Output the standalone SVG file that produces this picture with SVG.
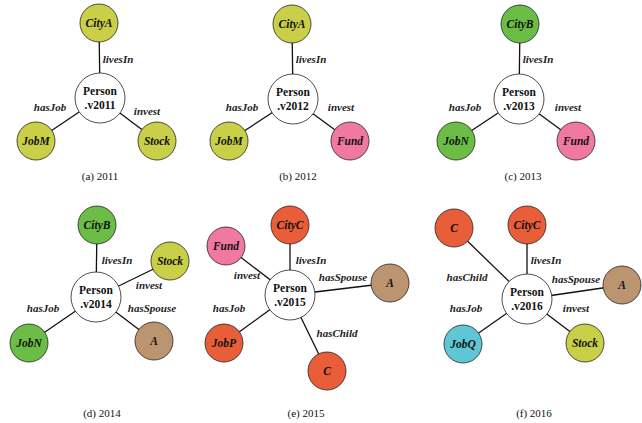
<svg xmlns="http://www.w3.org/2000/svg" width="642" height="423" viewBox="0 0 642 423">
<style>
.n{stroke:#222;stroke-width:0.8}
.p{fill:#fff;stroke:#222;stroke-width:0.8}
.y{fill:#c9cf46}.g{fill:#6cbd45}.k{fill:#f178a1}.o{fill:#e95d38}.b{fill:#bb9470}.c{fill:#5ec7d3}
.e line{stroke:#111;stroke-width:1.3}
text{font-family:"Liberation Serif","Times New Roman",serif;text-anchor:middle;dominant-baseline:central;fill:#111}
.nl{font-size:11.5px;font-weight:bold;font-style:italic}
.pl{font-size:11.5px;font-weight:bold}
.el{font-size:11px;font-style:italic;font-weight:bold;fill:#222}
.cap{font-size:11px}
</style>
<rect width="642" height="423" fill="#fff"/>
<g id="edges" class="e">
<line x1="99" y1="23" x2="100" y2="98"/><line x1="36" y1="141" x2="100" y2="98"/><line x1="157" y1="141" x2="100" y2="98"/>
<line x1="292" y1="24" x2="293" y2="99"/><line x1="229" y1="141" x2="293" y2="99"/><line x1="350" y1="141" x2="293" y2="99"/>
<line x1="520" y1="24" x2="519" y2="99"/><line x1="456" y1="141" x2="519" y2="99"/><line x1="576" y1="141" x2="519" y2="99"/>
<line x1="97" y1="225" x2="96" y2="297"/><line x1="170" y1="261" x2="96" y2="297"/><line x1="29" y1="343" x2="96" y2="297"/><line x1="154" y1="341" x2="96" y2="297"/>
<line x1="290" y1="225" x2="290" y2="295"/><line x1="226" y1="246" x2="290" y2="295"/><line x1="390" y1="283" x2="290" y2="295"/><line x1="224" y1="343" x2="290" y2="295"/><line x1="327" y1="371" x2="290" y2="295"/>
<line x1="454" y1="228" x2="527" y2="299"/><line x1="527" y1="225" x2="527" y2="299"/><line x1="623" y1="285" x2="527" y2="299"/><line x1="463" y1="344" x2="527" y2="299"/><line x1="585" y1="343" x2="527" y2="299"/>
</g>
<g id="edge-labels">
<text class="el" x="118" y="59">livesIn</text><text class="el" x="50" y="107">hasJob</text><text class="el" x="147" y="111">invest</text>
<text class="el" x="311" y="59">livesIn</text><text class="el" x="242" y="107">hasJob</text><text class="el" x="341" y="107">invest</text>
<text class="el" x="538" y="59">livesIn</text><text class="el" x="465" y="107">hasJob</text><text class="el" x="568" y="107">invest</text>
<text class="el" x="117" y="260">livesIn</text><text class="el" x="149" y="285">invest</text><text class="el" x="43" y="308">hasJob</text><text class="el" x="152" y="308">hasSpouse</text>
<text class="el" x="311" y="260">livesIn</text><text class="el" x="247" y="275">invest</text><text class="el" x="343" y="277">hasSpouse</text><text class="el" x="229" y="308">hasJob</text><text class="el" x="337" y="333">hasChild</text>
<text class="el" x="546" y="260">livesIn</text><text class="el" x="467" y="277">hasChild</text><text class="el" x="576" y="279">hasSpouse</text><text class="el" x="466" y="308">hasJob</text><text class="el" x="576" y="308">invest</text>
</g>
<g id="a-person"><circle class="p" cx="100" cy="98" r="25"/><text class="pl" x="100" y="91">Person</text><text class="pl" x="100" y="105">.v2011</text></g>
<g id="a-citya"><circle class="n y" cx="99" cy="23" r="19"/><text class="nl" x="99" y="23">CityA</text></g>
<g id="a-jobm"><circle class="n y" cx="36" cy="141" r="19"/><text class="nl" x="36" y="141">JobM</text></g>
<g id="a-stock"><circle class="n y" cx="157" cy="141" r="19"/><text class="nl" x="157" y="141">Stock</text></g>
<g id="b-person"><circle class="p" cx="293" cy="99" r="25"/><text class="pl" x="293" y="92">Person</text><text class="pl" x="293" y="106">.v2012</text></g>
<g id="b-citya"><circle class="n y" cx="292" cy="24" r="19"/><text class="nl" x="292" y="24">CityA</text></g>
<g id="b-jobm"><circle class="n y" cx="229" cy="141" r="19"/><text class="nl" x="229" y="141">JobM</text></g>
<g id="b-fund"><circle class="n k" cx="350" cy="141" r="19"/><text class="nl" x="350" y="141">Fund</text></g>
<g id="c-person"><circle class="p" cx="519" cy="99" r="25"/><text class="pl" x="519" y="92">Person</text><text class="pl" x="519" y="106">.v2013</text></g>
<g id="c-cityb"><circle class="n g" cx="520" cy="24" r="19"/><text class="nl" x="520" y="24">CityB</text></g>
<g id="c-jobn"><circle class="n g" cx="456" cy="141" r="19"/><text class="nl" x="456" y="141">JobN</text></g>
<g id="c-fund"><circle class="n k" cx="576" cy="141" r="19"/><text class="nl" x="576" y="141">Fund</text></g>
<g id="d-person"><circle class="p" cx="96" cy="297" r="25"/><text class="pl" x="96" y="290">Person</text><text class="pl" x="96" y="304">.v2014</text></g>
<g id="d-cityb"><circle class="n g" cx="97" cy="225" r="19"/><text class="nl" x="97" y="225">CityB</text></g>
<g id="d-stock"><circle class="n y" cx="170" cy="261" r="19"/><text class="nl" x="170" y="261">Stock</text></g>
<g id="d-jobn"><circle class="n g" cx="29" cy="343" r="19"/><text class="nl" x="29" y="343">JobN</text></g>
<g id="d-a"><circle class="n b" cx="154" cy="341" r="19"/><text class="nl" x="154" y="341">A</text></g>
<g id="e-person"><circle class="p" cx="290" cy="295" r="25"/><text class="pl" x="290" y="288">Person</text><text class="pl" x="290" y="302">.v2015</text></g>
<g id="e-cityc"><circle class="n o" cx="290" cy="225" r="19"/><text class="nl" x="290" y="225">CityC</text></g>
<g id="e-fund"><circle class="n k" cx="226" cy="246" r="19"/><text class="nl" x="226" y="246">Fund</text></g>
<g id="e-a"><circle class="n b" cx="390" cy="283" r="19"/><text class="nl" x="390" y="283">A</text></g>
<g id="e-jobp"><circle class="n o" cx="224" cy="343" r="19"/><text class="nl" x="224" y="343">JobP</text></g>
<g id="e-c"><circle class="n o" cx="327" cy="371" r="19"/><text class="nl" x="327" y="371">C</text></g>
<g id="f-person"><circle class="p" cx="527" cy="299" r="25"/><text class="pl" x="527" y="292">Person</text><text class="pl" x="527" y="306">.v2016</text></g>
<g id="f-c"><circle class="n o" cx="454" cy="228" r="19"/><text class="nl" x="454" y="228">C</text></g>
<g id="f-cityc"><circle class="n o" cx="527" cy="225" r="19"/><text class="nl" x="527" y="225">CityC</text></g>
<g id="f-a"><circle class="n b" cx="622" cy="285" r="19"/><text class="nl" x="622" y="285">A</text></g>
<g id="f-jobq"><circle class="n c" cx="463" cy="344" r="19"/><text class="nl" x="463" y="344">JobQ</text></g>
<g id="f-stock"><circle class="n y" cx="585" cy="343" r="19"/><text class="nl" x="585" y="343">Stock</text></g>
<g id="captions">
<text class="cap" x="100" y="176">(a) 2011</text><text class="cap" x="298" y="176">(b) 2012</text><text class="cap" x="523" y="176">(c) 2013</text>
<text class="cap" x="102" y="413">(d) 2014</text><text class="cap" x="306" y="413">(e) 2015</text><text class="cap" x="534" y="413">(f) 2016</text>
</g>
</svg>
